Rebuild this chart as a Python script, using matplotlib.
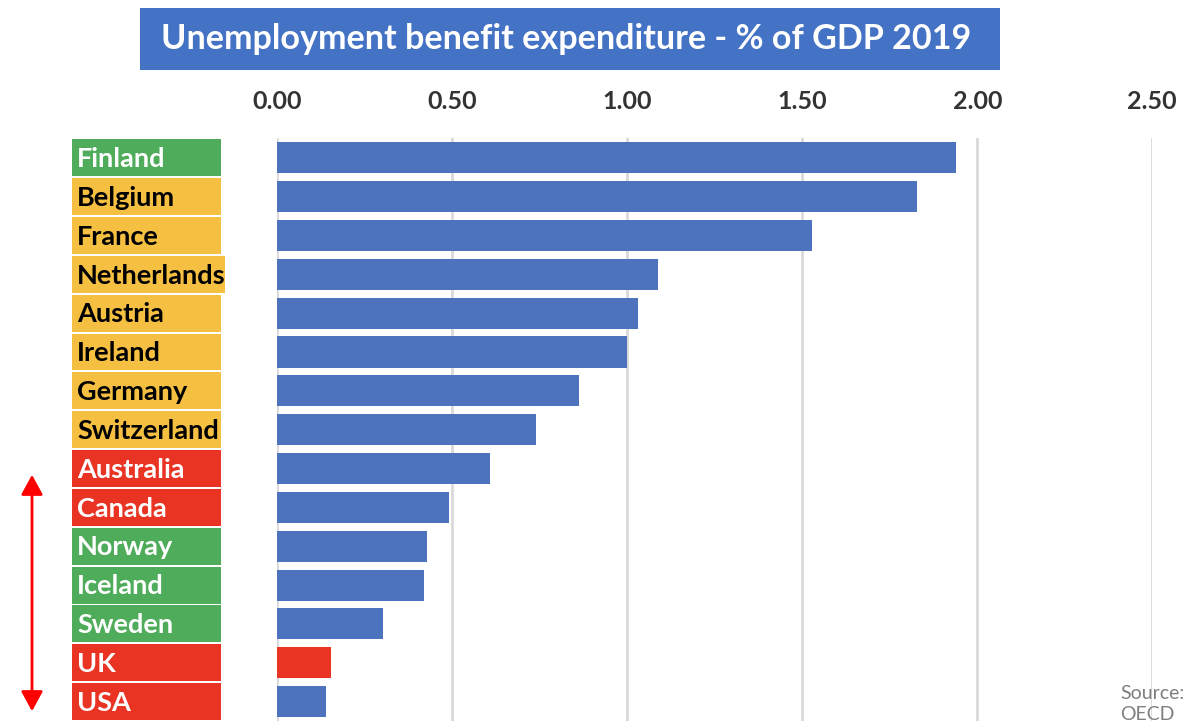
import matplotlib.pyplot as plt
import matplotlib.transforms as mtransforms
from matplotlib.patches import Rectangle, FancyArrowPatch

countries = ['Finland', 'Belgium', 'France', 'Netherlands', 'Austria', 'Ireland',
             'Germany', 'Switzerland', 'Australia', 'Canada', 'Norway', 'Iceland',
             'Sweden', 'UK', 'USA']
values = [1.939, 1.827, 1.528, 1.087, 1.031, 1.000, 0.861, 0.739, 0.607,
          0.491, 0.428, 0.420, 0.302, 0.152, 0.140]
groups = ['green', 'amber', 'amber', 'amber', 'amber', 'amber', 'amber', 'amber',
          'red', 'red', 'green', 'green', 'green', 'red', 'red']
highlight = 'UK'
ticks = [0.0, 0.5, 1.0, 1.5, 2.0, 2.5]

FONT = 'Lato'
W, H = 1202, 725
box_colors = {'green': '#4FAC5B', 'amber': '#F5BF42', 'red': '#E93424'}
text_colors = {'green': 'white', 'amber': 'black', 'red': 'white'}

fig = plt.figure(figsize=(W / 100, H / 100), dpi=100)
ax = fig.add_axes([277.3 / W, 1 - 721 / H, (1152.3 - 277.3) / W, (721 - 138.4) / H])

ypos = list(range(len(countries)))
bar_colors = ['#E93424' if c == highlight else '#4E73BE' for c in countries]
ax.barh(ypos, values, height=0.8, color=bar_colors, zorder=3)
ax.set_ylim(len(countries) - 0.5, -0.5)
ax.set_xlim(0, 2.5)

ax.set_xticks(ticks)
ax.set_xticklabels(['%.2f' % t for t in ticks], fontsize=18, fontweight='bold',
                   color='#333333', family=FONT)
ax.xaxis.tick_top()
ax.tick_params(axis='x', length=0, pad=18)
ax.set_yticks([])
ax.grid(axis='x', color='#D9D9D9', linewidth=2, zorder=0)
for s in ax.spines.values():
    s.set_visible(False)

# coloured label boxes on the left
trans = mtransforms.blended_transform_factory(fig.transFigure, ax.transData)
for i, (c, g) in enumerate(zip(countries, groups)):
    x0 = 72 / W
    w = (153 if c == 'Netherlands' else 149) / W
    ax.add_patch(Rectangle((x0, i - 0.475), w, 0.95, transform=trans,
                           facecolor=box_colors[g], edgecolor='none', clip_on=False))
    ax.text(77 / W, i + 0.03, c, transform=trans, va='center', ha='left',
            fontsize=19.5, fontweight='bold', color=text_colors[g], family=FONT)

# red double-headed arrow
arrow = FancyArrowPatch((32 / W, 1 - 472 / H), (32 / W, 1 - 714 / H),
                        transform=fig.transFigure,
                        arrowstyle='<|-|>,head_length=0.55,head_width=0.3',
                        mutation_scale=22, color='#FF0000', linewidth=2)
fig.patches.append(arrow)

# title box
fig.patches.append(Rectangle((140 / W, 1 - 70 / H), 860 / W, 62 / H,
                             transform=fig.transFigure, facecolor='#4472C4',
                             edgecolor='none'))
fig.text(566 / W, 1 - 39 / H, 'Unemployment benefit expenditure - % of GDP 2019',
         ha='center', va='center', fontsize=24.6, fontweight='bold', color='white',
         family=FONT)

fig.text(1120 / W, 1 - 704 / H, 'Source:\nOECD', ha='left', va='center',
         fontsize=14, color='#7F7F7F', family=FONT, linespacing=1.25)

fig.savefig('out.png', dpi=100)
